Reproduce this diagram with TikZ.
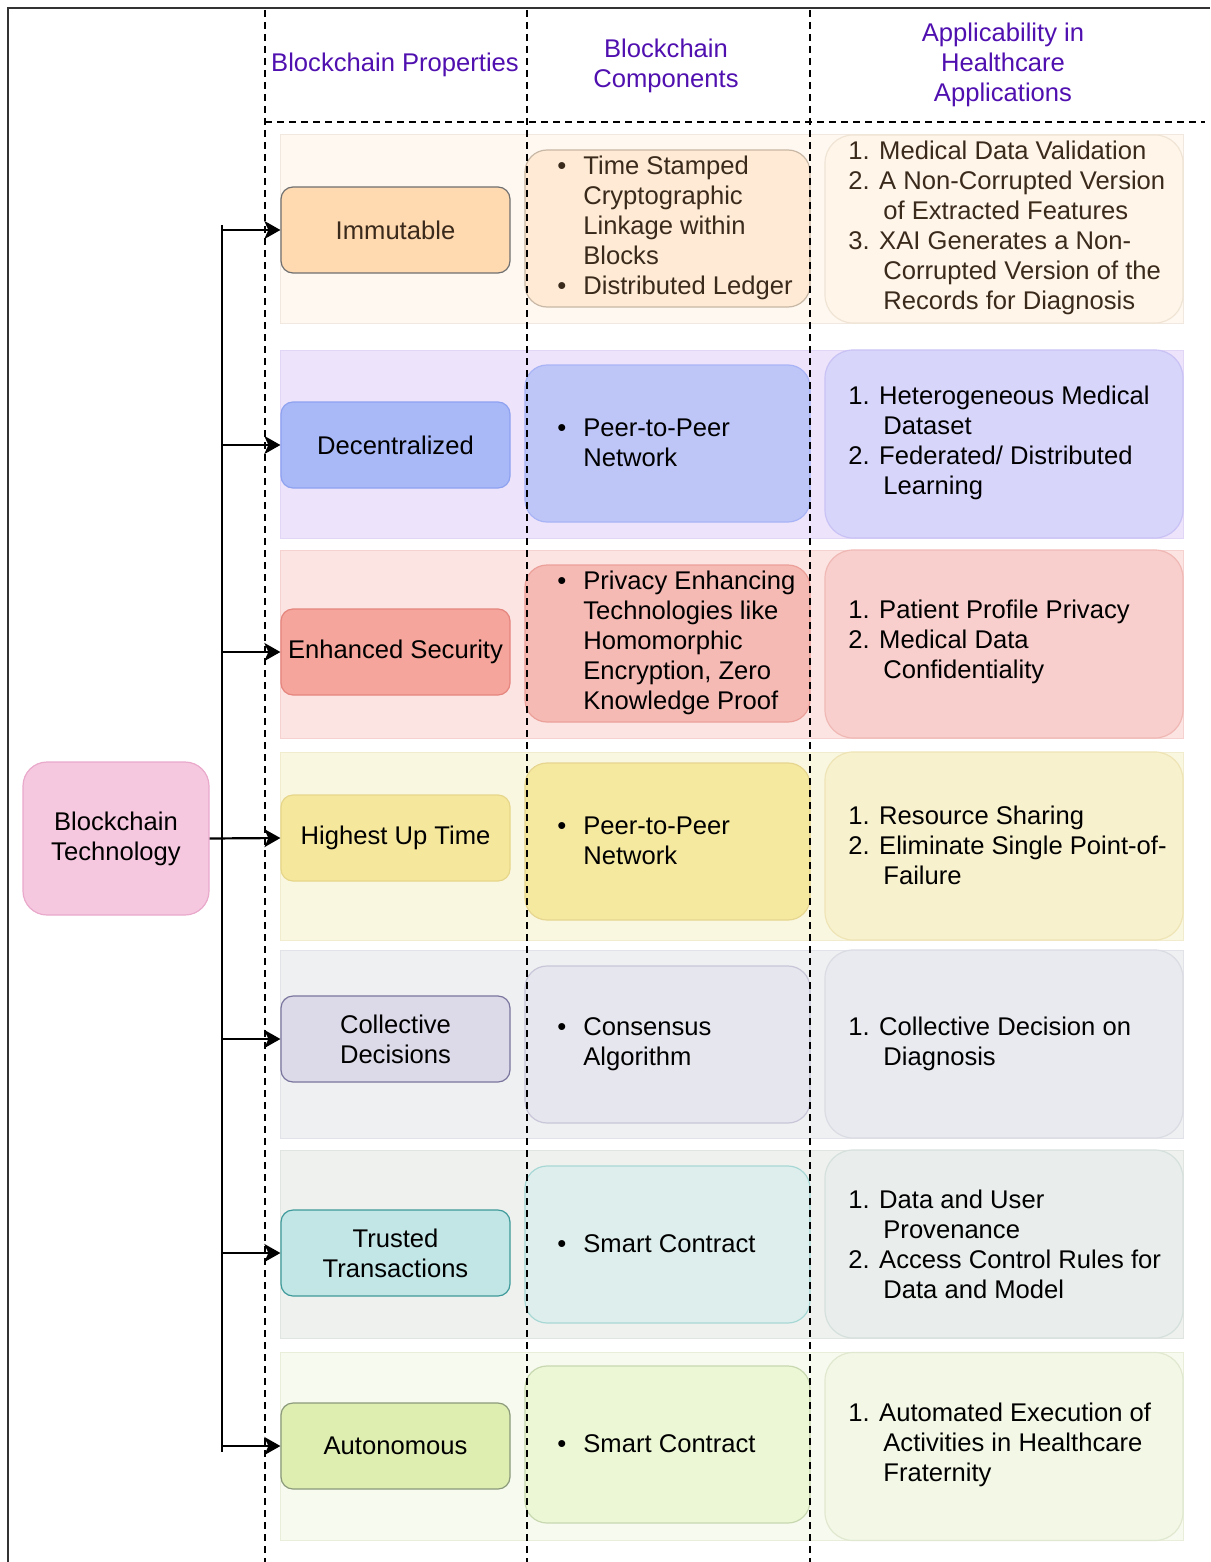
\documentclass[tikz,border=0pt]{standalone}
\usepackage{fontspec}
\setmainfont{Liberation Sans}
\usetikzlibrary{arrows.meta}
\definecolor{hdr}{HTML}{5010B0}
\definecolor{brownt}{HTML}{3A2A1C}
% bands
\definecolor{bA1}{HTML}{FEF8F1}\definecolor{bA2}{HTML}{F1E9DF}
\definecolor{bB1}{HTML}{EDE3FA}\definecolor{bB2}{HTML}{E2D6F6}
\definecolor{bC1}{HTML}{FBE4E2}\definecolor{bC2}{HTML}{F5D2CF}
\definecolor{bD1}{HTML}{FAF7E1}\definecolor{bD2}{HTML}{F1ECCD}
\definecolor{bE1}{HTML}{EFF0F2}\definecolor{bE2}{HTML}{E2E3E8}
\definecolor{bF1}{HTML}{EFF1EF}\definecolor{bF2}{HTML}{E1E5E1}
\definecolor{bG1}{HTML}{F7FAEE}\definecolor{bG2}{HTML}{E8EEDA}
% properties
\definecolor{pA1}{HTML}{FFD9B0}\definecolor{pA2}{HTML}{707070}
\definecolor{pB1}{HTML}{A9B8F7}\definecolor{pB2}{HTML}{8EA2F0}
\definecolor{pC1}{HTML}{F5A59B}\definecolor{pC2}{HTML}{E5857E}
\definecolor{pD1}{HTML}{F5E89D}\definecolor{pD2}{HTML}{E6D68A}
\definecolor{pE1}{HTML}{DCDAE8}\definecolor{pE2}{HTML}{7A759E}
\definecolor{pF1}{HTML}{C2E6E6}\definecolor{pF2}{HTML}{3E9A9A}
\definecolor{pG1}{HTML}{DEEDB0}\definecolor{pG2}{HTML}{8A9A7A}
% components
\definecolor{cA1}{HTML}{FFEBD5}\definecolor{cA2}{HTML}{C8B8A5}
\definecolor{cB1}{HTML}{BEC6F8}\definecolor{cB2}{HTML}{A8B4F5}
\definecolor{cC1}{HTML}{F6BAB5}\definecolor{cC2}{HTML}{EBA09A}
\definecolor{cD1}{HTML}{F5E9A0}\definecolor{cD2}{HTML}{E6D690}
\definecolor{cE1}{HTML}{E6E6EE}\definecolor{cE2}{HTML}{C8C6D8}
\definecolor{cF1}{HTML}{DDEEEC}\definecolor{cF2}{HTML}{A8D8D5}
\definecolor{cG1}{HTML}{ECF7D6}\definecolor{cG2}{HTML}{C8D8B0}
% applicability
\definecolor{aA1}{HTML}{FFF5E9}\definecolor{aA2}{HTML}{F0E4D5}
\definecolor{aB1}{HTML}{D8D5FA}\definecolor{aB2}{HTML}{C8C2F5}
\definecolor{aC1}{HTML}{F8CFCC}\definecolor{aC2}{HTML}{F0B8B5}
\definecolor{aD1}{HTML}{F8F1CE}\definecolor{aD2}{HTML}{EEE4B5}
\definecolor{aE1}{HTML}{E9EAEF}\definecolor{aE2}{HTML}{DADCE3}
\definecolor{aF1}{HTML}{E9EEEC}\definecolor{aF2}{HTML}{D5E0DC}
\definecolor{aG1}{HTML}{F3F8E6}\definecolor{aG2}{HTML}{E0E8D0}
\definecolor{btf}{HTML}{F6C8E0}\definecolor{btd}{HTML}{E9A9CB}
\newcommand{\bul}{\makebox[14pt][l]{\hspace{1pt}•}}
\newcommand{\ind}{\hspace*{14pt}}
\newcommand{\nind}{\hspace*{17.5pt}}
\begin{document}
\begin{tikzpicture}[x=0.5pt,y=-0.5pt,
  fz/.style={font=\fontsize{12.8}{15}\selectfont},
  band/.style 2 args={fill=#1, draw=#2, line width=0.5pt, minimum width=451.5pt, minimum height=94pt, inner sep=0pt},
  prop/.style 2 args={fill=#1, draw=#2, line width=0.6pt, rounded corners=6pt, minimum width=114.5pt, minimum height=43pt, inner sep=0pt, align=center, fz},
  comp/.style 2 args={fill=#1, draw=#2, line width=0.6pt, rounded corners=11pt, minimum width=142.5pt, minimum height=78.5pt, inner sep=0pt},
  app/.style 2 args={fill=#1, draw=#2, line width=0.6pt, rounded corners=14pt, minimum width=179pt, minimum height=94pt, inner sep=0pt},
  txt/.style={fz, inner sep=0pt, anchor=west, align=left},
  hd/.style={fz, inner sep=0pt, align=center, text=hdr},
  dsh/.style={line width=1.1pt, dash pattern=on 3.5pt off 2.5pt},
  arr/.style={line width=1.1pt, -{Stealth[length=8pt,width=9pt,inset=2pt]}}
]
\useasboundingbox (0,0) rectangle (1210,1562);
% outer frame
\draw[line width=0.8pt, draw=black!80] (8,1562) -- (8,8) -- (1210,8);
% headers
\node[hd] (h1) at (395,65) {Blockchain Properties};
\node[hd] (h2) at (666,66) {Blockchain\\Components};
\node[hd] (h3) at (1003,65) {Applicability in\\Healthcare\\Applications};
% bands
\node[band={bA1}{bA2}] (b1) at (731.5,229) {};
\node[band={bB1}{bB2}] (b2) at (731.5,444) {};
\node[band={bC1}{bC2}] (b3) at (731.5,644) {};
\node[band={bD1}{bD2}] (b4) at (731.5,846) {};
\node[band={bE1}{bE2}] (b5) at (731.5,1044) {};
\node[band={bF1}{bF2}] (b6) at (731.5,1244) {};
\node[band={bG1}{bG2}] (b7) at (731.5,1446.5) {};
% properties
\node[prop={pA1}{pA2}, text=brownt] (p1) at (395.5,230) {Immutable};
\node[prop={pB1}{pB2}] (p2) at (395.5,445) {Decentralized};
\node[prop={pC1}{pC2}] (p3) at (395.5,652) {Enhanced Security};
\node[prop={pD1}{pD2}] (p4) at (395.5,838) {Highest Up Time};
\node[prop={pE1}{pE2}] (p5) at (395.5,1039) {Collective\\Decisions};
\node[prop={pF1}{pF2}] (p6) at (395.5,1253) {Trusted\\Transactions};
\node[prop={pG1}{pG2}] (p7) at (395.5,1446) {Autonomous};
% components
\node[comp={cA1}{cA2}] (c1) at (667.5,228.5) {};
\node[comp={cB1}{cB2}] (c2) at (667.5,443.5) {};
\node[comp={cC1}{cC2}] (c3) at (667.5,643.5) {};
\node[comp={cD1}{cD2}] (c4) at (667.5,841.5) {};
\node[comp={cE1}{cE2}] (c5) at (667.5,1044.5) {};
\node[comp={cF1}{cF2}] (c6) at (667.5,1244.5) {};
\node[comp={cG1}{cG2}] (c7) at (667.5,1444.5) {};
\node[txt, text=brownt] (c1t) at (555,228) {\bul Time Stamped\\\ind Cryptographic\\\ind Linkage within\\\ind Blocks\\\bul Distributed Ledger};
\node[txt] (c2t) at (555,443) {\bul Peer-to-Peer\\\ind Network};
\node[txt] (c3t) at (555,643) {\bul Privacy Enhancing\\\ind Technologies like\\\ind Homomorphic\\\ind Encryption, Zero\\\ind Knowledge Proof};
\node[txt] (c4t) at (555,841) {\bul Peer-to-Peer\\\ind Network};
\node[txt] (c5t) at (555,1044) {\bul Consensus\\\ind Algorithm};
\node[txt] (c6t) at (555,1244) {\bul Smart Contract};
\node[txt] (c7t) at (555,1444) {\bul Smart Contract};
% applicability
\node[app={aA1}{aA2}] (a1) at (1004,229) {};
\node[app={aB1}{aB2}] (a2) at (1004,444) {};
\node[app={aC1}{aC2}] (a3) at (1004,644) {};
\node[app={aD1}{aD2}] (a4) at (1004,846) {};
\node[app={aE1}{aE2}] (a5) at (1004,1044) {};
\node[app={aF1}{aF2}] (a6) at (1004,1244) {};
\node[app={aG1}{aG2}] (a7) at (1004,1446.5) {};
\node[txt, text=brownt] (a1t) at (848,228) {1. Medical Data Validation\\2. A Non-Corrupted Version\\\nind of Extracted Features\\3. XAI Generates a Non-\\\nind Corrupted Version of the\\\nind Records for Diagnosis};
\node[txt] (a2t) at (848,443) {1. Heterogeneous Medical\\\nind Dataset\\2. Federated/ Distributed\\\nind Learning};
\node[txt] (a3t) at (848,642) {1. Patient Profile Privacy\\2. Medical Data\\\nind Confidentiality};
\node[txt] (a4t) at (848,845) {1. Resource Sharing\\2. Eliminate Single Point-of-\\\nind Failure};
\node[txt] (a5t) at (848,1044) {1. Collective Decision on\\\nind Diagnosis};
\node[txt] (a6t) at (848,1244) {1. Data and User\\\nind Provenance\\2. Access Control Rules for\\\nind Data and Model};
\node[txt] (a7t) at (848,1445) {1. Automated Execution of\\\nind Activities in Healthcare\\\nind Fraternity};
% blockchain technology
\node[fill=btf, draw=btd, line width=0.6pt, rounded corners=12pt, minimum width=93pt, minimum height=76.5pt, inner sep=0pt, align=center, fz] (bt) at (116,838.5) {Blockchain\\Technology};
% dashed grid
\draw[dsh] (265,10) -- (265,1562);
\draw[dsh] (527,10) -- (527,1562);
\draw[dsh] (810,10) -- (810,1562);
\draw[dsh] (265,122) -- (1205,122);
% connectors
\coordinate (ttop) at (222,225);
\coordinate (tbot) at (222,1452);
\coordinate (t1) at (222,230);
\coordinate (t2) at (222,445);
\coordinate (t3) at (222,652);
\coordinate (t5) at (222,1039);
\coordinate (t6) at (222,1253);
\coordinate (t7) at (222,1446);
\draw[line width=1.1pt] (ttop) -- (tbot);
\draw[arr] (t1) -- (p1.west);
\draw[arr] (t2) -- (p2.west);
\draw[arr] (t3) -- (p3.west);
\draw[arr] (bt.east) -- (p4.west);
\draw[arr] (t5) -- (p5.west);
\draw[arr] (t6) -- (p6.west);
\draw[arr] (t7) -- (p7.west);
\end{tikzpicture}
\end{document}
